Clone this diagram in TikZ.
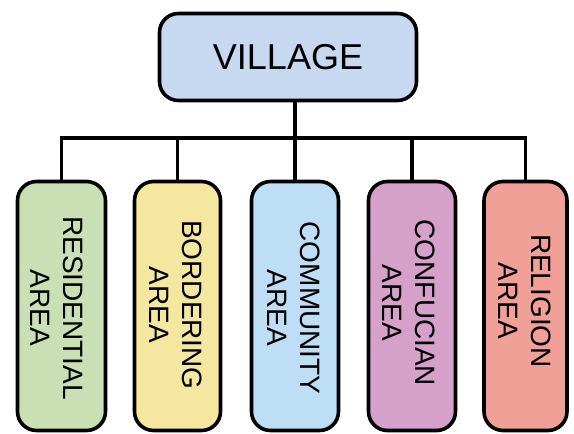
\documentclass[tikz,border=0pt]{standalone}
\usepackage{fontspec}
\setmainfont{Liberation Sans}
\usetikzlibrary{backgrounds}
\definecolor{villagefill}{RGB}{198,217,241}
\definecolor{greenfill}{RGB}{200,224,180}
\definecolor{yellowfill}{RGB}{245,231,160}
\definecolor{bluefill}{RGB}{190,222,245}
\definecolor{purplefill}{RGB}{213,160,202}
\definecolor{salmonfill}{RGB}{240,160,150}
\begin{document}
\begin{tikzpicture}[x=1pt,y=-1pt,
  box/.style={draw=black, line width=3.6pt, rounded corners=19pt, inner sep=0pt},
  areabox/.style={box, minimum width=87pt, minimum height=249pt},
  lbl/.style={rotate=-90, font=\fontsize{28}{33}\selectfont, align=center, inner sep=0pt},
  conn/.style={line width=3.2pt}]
\useasboundingbox (0,0) rectangle (574,434);
\node[box, fill=villagefill, minimum width=257pt, minimum height=87pt,
      font=\fontsize{36}{40}\selectfont] (village) at (288,57) {VILLAGE};
\node[areabox, fill=greenfill, minimum width=88pt] (b1) at (61.5,306) {};
\node[areabox, fill=yellowfill, minimum width=86pt] (b2) at (177.5,306) {};
\node[areabox, fill=bluefill] (b3) at (295,306) {};
\node[areabox, fill=purplefill] (b4) at (412,306) {};
\node[areabox, fill=salmonfill, minimum width=83pt] (b5) at (525.5,306) {};
\node[lbl] (t1) at (57,308) {RESIDENTIAL\\AREA};
\node[lbl] (t2) at (175.5,305) {BORDERING\\AREA};
\node[lbl] (t3) at (293.5,308) {COMMUNITY\\AREA};
\node[lbl] (t4) at (408.5,303) {CONFUCIAN\\AREA};
\node[lbl] (t5) at (525,301) {RELIGION\\AREA};
\coordinate (bus) at (0,138);
\begin{scope}[on background layer]
\draw[conn] (village.south -| b3.north) -- (b3.north);
\draw[conn] (b1.north) -- (b1.north |- bus) -- (b5.north |- bus) -- (b5.north);
\draw[conn] (b2.north) -- (b2.north |- bus);
\draw[conn] (b4.north) -- (b4.north |- bus);
\end{scope}
\end{tikzpicture}
\end{document}
